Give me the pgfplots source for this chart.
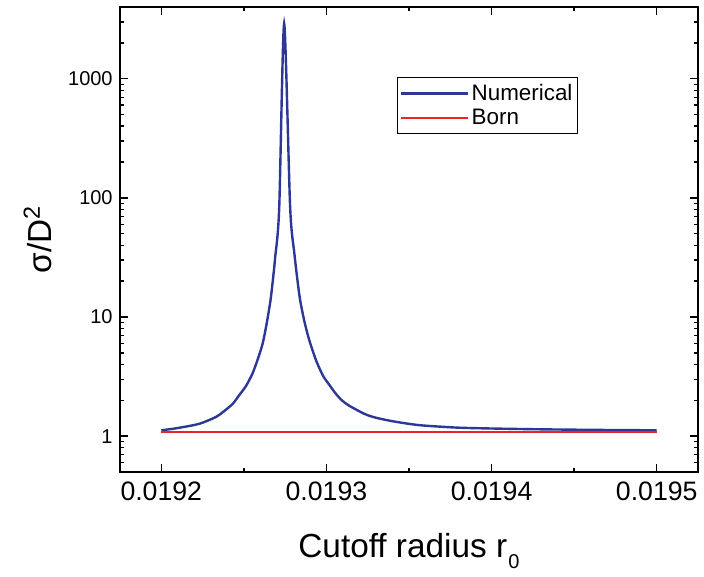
\documentclass[border=0pt]{standalone}
\usepackage{fontspec}
\setmainfont{Liberation Sans}
\usepackage{pgfplots}
\pgfplotsset{compat=1.18}
\definecolor{numblue}{RGB}{45,55,150}
\definecolor{bornred}{RGB}{237,35,40}
\begin{document}
\begin{tikzpicture}
\path[use as bounding box] (0,0) rectangle (528pt,432pt);
\begin{axis}[
  at={(90pt,78pt)}, anchor=south west,
  width=433.5pt, height=348.75pt, scale only axis,
  ymode=log,
  xmin=0.019175, xmax=0.019525,
  ymin=0.5, ymax=4000,
  scaled x ticks=false,
  axis line style={line width=1.1pt},
  tick style={line width=1.0pt, black},
  major tick length=6pt, minor tick length=3pt,
  tick align=inside,
  xtick={0.0192,0.0193,0.0194,0.0195},
  xticklabels={0.0192,0.0193,0.0194,0.0195},
  minor xtick={0.01925,0.01935,0.01945},
  ytick={1,10,100,1000},
  yticklabels={1,10,100,1000},
  minor ytick={0.5,0.6,0.7,0.8,0.9,2,3,4,5,6,7,8,9,20,30,40,50,60,70,80,90,200,300,400,500,600,700,800,900,2000,3000},
  /pgf/number format/assume math mode=true,
  xticklabel style={font=\fontsize{20}{24}\selectfont, yshift=-4pt},
  yticklabel style={font=\fontsize{15}{18}\selectfont, xshift=-2pt},
  xlabel={Cutoff radius r\kern1pt\raisebox{-8.5pt}{\fontsize{15}{16}\selectfont 0}},
  ylabel={σ/D\textsuperscript{2}},
  xlabel style={font=\fontsize{25}{30}\selectfont, at={(axis description cs:0.5,-0.184)}, anchor=base},
  ylabel style={font=\fontsize{25}{30}\selectfont, at={(axis description cs:-0.142,0.5)}, anchor=center},
  legend style={at={(axis description cs:0.479,0.849)}, anchor=north west, draw=black, line width=0.6pt,
    font=\fontsize{16.8}{20}\selectfont, inner xsep=2pt, inner ysep=3pt, row sep=1pt},
  legend cell align=left,
  legend image code/.code={\path (0pt,0pt) -- (50pt,0pt); \draw[#1, line width=1.2pt] (9pt,0pt) -- (45pt,0pt);},
]
\addplot[numblue, line width=1.8pt, smooth, tension=0.45] table {
x y
0.0192000 1.12
0.0192065 1.15
0.0192130 1.19
0.0192231 1.27
0.0192332 1.45
0.0192380 1.62
0.0192433 1.87
0.0192471 2.2
0.0192514 2.65
0.0192554 3.4
0.0192586 4.5
0.0192614 6.0
0.0192638 8.8
0.0192661 13.7
0.0192675 20
0.0192689 31
0.0192714 82
0.0192744 2905
0.0192780 85
0.0192806 34
0.0192837 15
0.0192865 9.4
0.0192896 6.4
0.0192938 4.3
0.0192980 3.2
0.0193017 2.7
0.0193059 2.25
0.0193095 1.99
0.0193138 1.8
0.0193229 1.54
0.0193289 1.44
0.0193380 1.35
0.0193480 1.28
0.0193580 1.23
0.0193786 1.18
0.0193986 1.16
0.0194320 1.14
0.0194744 1.125
0.0195000 1.12
};
\addlegendentry{Numerical}
\addplot[bornred, line width=1.6pt] table {
x y
0.0192 1.08
0.0195 1.08
};
\addlegendentry{Born}
\end{axis}
\end{tikzpicture}
\end{document}
